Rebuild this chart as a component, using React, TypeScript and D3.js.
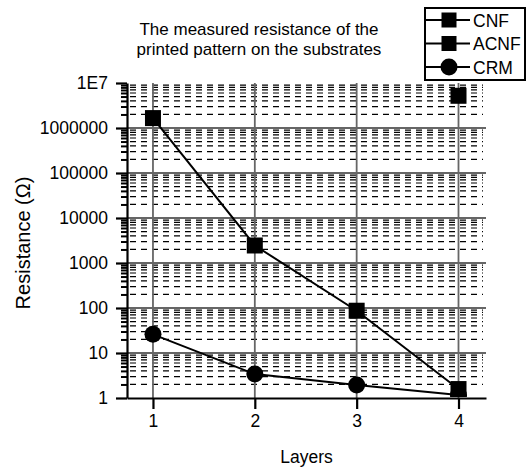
import React, { useEffect, useRef } from 'react';
import * as d3 from 'd3';

const layers = [1, 2, 3, 4];
const cnfValues = [1.66e6, 2450, 87, 1.58];
const acnfLayers = [4];
const acnfValues = [5.2e6];
const crmValues = [26, 3.4, 1.95, 1.17];
const yMajorTicks = [1, 10, 100, 1000, 10000, 100000, 1000000, 10000000];
const yTickLabels = ['1', '10', '100', '1000', '10000', '100000', '1000000', '1E7'];
const legendNames = ['CNF', 'ACNF', 'CRM'];
const titleLines = ['The measured resistance of the', 'printed pattern on the substrates'];

const W = 526;
const H = 467;
const FONT = 'Arial, "Liberation Sans", Helvetica, sans-serif';

const App = () => {
  const svgRef = useRef<SVGSVGElement>(null);

  useEffect(() => {
    const svg = d3.select(svgRef.current);
    svg.selectAll('*').remove();

    const left = 127, right = 486, top = 83, bottom = 398;
    const x = d3.scaleLinear().domain([0.745, 4.27]).range([left, right]);
    const y = d3.scaleLog().domain([1, 1e7]).range([bottom, top]);

    svg.append('defs').append('clipPath').attr('id', 'plotclip')
      .append('rect')
      .attr('x', left).attr('y', top - 10)
      .attr('width', right - left).attr('height', bottom - top + 9);

    const minors: number[] = [];
    yMajorTicks.slice(0, -1).forEach(d => {
      for (let k = 2; k <= 9; k++) minors.push(d * k);
    });

    // grid
    const grid = svg.append('g');
    grid.selectAll('.minor')
      .data(minors)
      .enter()
      .append('line')
      .attr('x1', left + 3)
      .attr('x2', right - 3)
      .attr('y1', d => y(d))
      .attr('y2', d => y(d))
      .attr('stroke', '#000')
      .attr('stroke-width', 1.2)
      .attr('stroke-dasharray', '6,5');
    grid.selectAll('.major')
      .data(yMajorTicks.slice(1, -1))
      .enter()
      .append('line')
      .attr('x1', left)
      .attr('x2', right)
      .attr('y1', d => y(d))
      .attr('y2', d => y(d))
      .attr('stroke', '#666')
      .attr('stroke-width', 1.8);
    grid.selectAll('.vert')
      .data(layers)
      .enter()
      .append('line')
      .attr('x1', d => x(d))
      .attr('x2', d => x(d))
      .attr('y1', top)
      .attr('y2', bottom)
      .attr('stroke', '#666')
      .attr('stroke-width', 1.8);

    // axes
    const xAxis = svg.append('g')
      .attr('transform', `translate(0,${bottom})`)
      .call(d3.axisBottom(x).tickValues(layers).tickSize(11).tickSizeOuter(0).tickPadding(6).tickFormat(d3.format('d')));
    xAxis.select('.domain').attr('stroke-width', 2.2);
    xAxis.selectAll('.tick line').attr('stroke-width', 2.2);
    xAxis.selectAll('text').style('font-family', FONT).style('font-size', '17.5px').attr('fill', '#000');

    svg.append('g')
      .attr('transform', `translate(${left},0)`)
      .call(d3.axisLeft(y).tickValues(minors).tickSize(6).tickSizeOuter(0).tickFormat(() => ''))
      .call(g => g.select('.domain').remove())
      .selectAll('.tick line').attr('stroke-width', 2);

    const yAxis = svg.append('g')
      .attr('transform', `translate(${left},0)`)
      .call(d3.axisLeft(y).tickValues(yMajorTicks).tickSize(11).tickSizeOuter(0).tickPadding(8)
        .tickFormat((d, i) => yTickLabels[i]));
    yAxis.select('.domain').attr('stroke-width', 2.2);
    yAxis.selectAll('.tick line').attr('stroke-width', 2.2);
    yAxis.selectAll('text').style('font-family', FONT).style('font-size', '17.5px').attr('fill', '#000');

    // series
    const plot = svg.append('g').attr('clip-path', 'url(#plotclip)');
    const line = d3.line<[number, number]>().x(d => x(d[0])).y(d => y(d[1]));
    const cnfPts = layers.map((l, i) => [l, cnfValues[i]] as [number, number]);
    const crmPts = layers.map((l, i) => [l, crmValues[i]] as [number, number]);
    const acnfPts = acnfLayers.map((l, i) => [l, acnfValues[i]] as [number, number]);

    [cnfPts, crmPts].forEach(pts => {
      plot.append('path')
        .attr('d', line(pts))
        .attr('fill', 'none')
        .attr('stroke', '#000')
        .attr('stroke-width', 2);
    });

    const sq = 16;
    plot.selectAll('.crm')
      .data(crmPts)
      .enter()
      .append('circle')
      .attr('cx', d => x(d[0]))
      .attr('cy', d => y(d[1]))
      .attr('r', 8.5)
      .attr('fill', '#000');
    plot.selectAll('.sq')
      .data([...cnfPts, ...acnfPts])
      .enter()
      .append('rect')
      .attr('x', d => x(d[0]) - sq / 2)
      .attr('y', d => y(d[1]) - sq / 2)
      .attr('width', sq)
      .attr('height', sq)
      .attr('fill', '#000');

    // titles
    titleLines.forEach((t, i) => {
      svg.append('text')
        .attr('x', 259)
        .attr('y', 35 + i * 19.5)
        .attr('text-anchor', 'middle')
        .style('font-family', FONT)
        .style('font-size', '17px')
        .text(t);
    });

    svg.append('text')
      .attr('x', (left + right) / 2)
      .attr('y', 463)
      .attr('text-anchor', 'middle')
      .style('font-family', FONT)
      .style('font-size', '17.5px')
      .text('Layers');

    svg.append('text')
      .attr('transform', `translate(30,243) rotate(-90)`)
      .attr('text-anchor', 'middle')
      .style('font-family', FONT)
      .style('font-size', '20px')
      .text('Resistance (Ω)');

    // legend
    const lg = svg.append('g');
    lg.append('rect')
      .attr('x', 425)
      .attr('y', 8)
      .attr('width', 100)
      .attr('height', 72)
      .attr('fill', '#fff')
      .attr('stroke', '#000')
      .attr('stroke-width', 2);
    legendNames.forEach((name, i) => {
      const cy = 20 + i * 23.5;
      lg.append('line')
        .attr('x1', 426).attr('x2', 470)
        .attr('y1', cy).attr('y2', cy)
        .attr('stroke', '#000').attr('stroke-width', 2);
      if (name === 'CRM') {
        lg.append('circle').attr('cx', 449).attr('cy', cy).attr('r', 8.5).attr('fill', '#000');
      } else {
        lg.append('rect').attr('x', 449 - 7.5).attr('y', cy - 7.5).attr('width', 15).attr('height', 15).attr('fill', '#000');
      }
      lg.append('text')
        .attr('x', 473)
        .attr('y', cy + 6.5)
        .style('font-family', FONT)
        .style('font-size', '17.5px')
        .text(name);
    });
  }, []);

  return (
    <svg
      ref={svgRef}
      width={W}
      height={H}
      style={{ position: 'absolute', left: 0, top: 0, display: 'block', background: '#fff' }}
    />
  );
};

export default App;
